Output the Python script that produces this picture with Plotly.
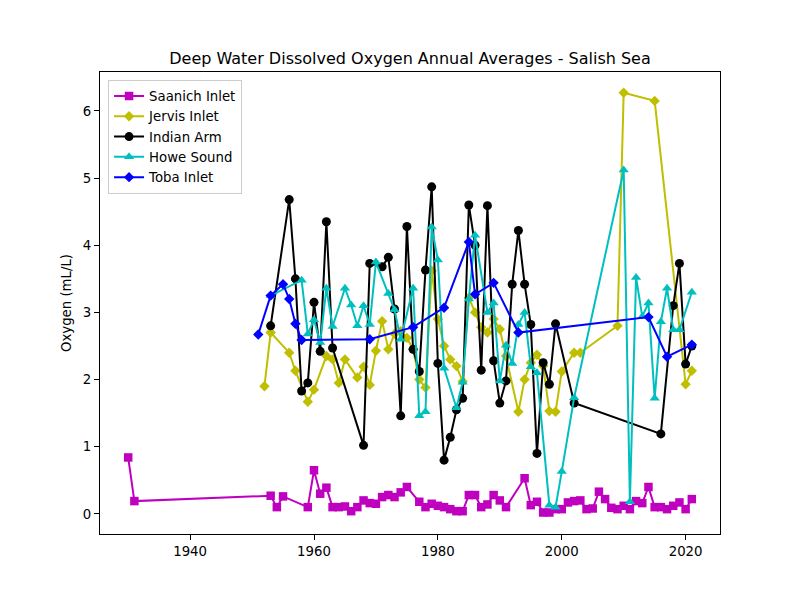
import plotly.graph_objects as go

saanich_years = [1930, 1931, 1953, 1954, 1955, 1959, 1960, 1961, 1962, 1963, 1964, 1965, 1966, 1967,
                 1968, 1969, 1970, 1971, 1972, 1973, 1974, 1975, 1977, 1978, 1979, 1980, 1981, 1982,
                 1983, 1984, 1985, 1986, 1987, 1988, 1989, 1990, 1991, 1994, 1995, 1996, 1997, 1998,
                 1999, 2000, 2001, 2002, 2003, 2004, 2005, 2006, 2007, 2008, 2009, 2010, 2011, 2012,
                 2013, 2014, 2015, 2016, 2017, 2018, 2019, 2020, 2021]
saanich_vals = [0.84, 0.19, 0.27, 0.10, 0.26, 0.10, 0.65, 0.30, 0.39, 0.10, 0.10, 0.11, 0.04, 0.10,
                0.20, 0.16, 0.15, 0.25, 0.28, 0.25, 0.32, 0.40, 0.18, 0.10, 0.15, 0.12, 0.10, 0.07,
                0.04, 0.04, 0.28, 0.28, 0.10, 0.14, 0.28, 0.20, 0.10, 0.53, 0.13, 0.18, 0.02, 0.02,
                0.07, 0.07, 0.17, 0.19, 0.20, 0.07, 0.08, 0.33, 0.22, 0.09, 0.07, 0.12, 0.07, 0.19,
                0.16, 0.40, 0.10, 0.10, 0.07, 0.12, 0.17, 0.07, 0.22]

jervis_years = [1952, 1953, 1956, 1957, 1959, 1960, 1962, 1963, 1964, 1965, 1967, 1968, 1969, 1970,
                1971, 1972, 1973, 1974, 1975, 1976, 1977, 1978, 1979, 1980, 1981, 1982, 1983, 1984,
                1985, 1986, 1987, 1988, 1989, 1990, 1991, 1993, 1994, 1995, 1996, 1997, 1998, 1999,
                2000, 2002, 2003, 2009, 2010, 2015, 2020, 2021]
jervis_vals = [1.90, 2.70, 2.40, 2.13, 1.67, 1.85, 2.35, 2.30, 1.95, 2.30, 2.03, 2.19, 1.92, 2.43,
               2.87, 2.45, 2.68, 2.72, 2.62, 2.45, 2.00, 1.88, 3.62, 2.90, 2.50, 2.30, 2.20, 1.97,
               3.22, 3.00, 2.78, 2.70, 2.90, 2.75, 2.35, 1.52, 2.00, 2.25, 2.37, 2.20, 1.53, 1.52,
               2.12, 2.40, 2.40, 2.80, 6.27, 6.15, 1.93, 2.13]

indian_years = [1953, 1956, 1957, 1958, 1959, 1960, 1961, 1962, 1963, 1968, 1969, 1971, 1972, 1973,
                1974, 1975, 1976, 1977, 1978, 1979, 1980, 1981, 1982, 1983, 1984, 1985, 1986, 1987,
                1988, 1989, 1990, 1991, 1992, 1993, 1994, 1995, 1996, 1997, 1998, 1999, 2002, 2016,
                2018, 2019, 2020, 2021]
indian_vals = [2.80, 4.68, 3.50, 1.83, 1.95, 3.15, 2.42, 4.35, 2.47, 1.02, 3.73, 3.68, 3.82, 3.05,
               1.46, 4.28, 2.45, 2.12, 3.63, 4.87, 2.24, 0.80, 1.14, 1.55, 1.72, 4.60, 4.00, 2.14,
               4.59, 2.28, 1.65, 1.98, 3.42, 4.22, 3.42, 2.82, 0.90, 2.25, 1.93, 2.83, 1.65, 1.19,
               3.10, 3.73, 2.23, 2.50]

howe_years = [1953, 1958, 1959, 1960, 1961, 1962, 1963, 1965, 1966, 1967, 1968, 1969, 1970, 1972,
              1973, 1974, 1976, 1977, 1978, 1979, 1980, 1981, 1983, 1984, 1985, 1986, 1988, 1989,
              1990, 1991, 1992, 1993, 1994, 1995, 1996, 1998, 1999, 2000, 2002, 2010, 2011, 2012,
              2013, 2014, 2015, 2016, 2017, 2018, 2019, 2021]
howe_vals = [3.25, 3.48, 2.68, 2.89, 2.55, 3.36, 2.79, 3.36, 3.11, 2.80, 3.10, 2.82, 3.75, 3.28,
             3.04, 2.60, 3.36, 1.46, 1.52, 4.27, 3.78, 2.17, 1.58, 1.96, 3.20, 4.15, 3.00, 3.14,
             1.98, 2.51, 2.24, 2.82, 3.00, 2.19, 2.10, 0.13, 0.10, 0.63, 1.73, 5.12, 0.18, 3.52,
             2.94, 3.14, 1.72, 2.86, 3.36, 2.74, 2.74, 3.30]

toba_years = [1951, 1953, 1955, 1956, 1957, 1958, 1969, 1976, 1981, 1985, 1986, 1989, 1993, 2014,
              2017, 2021]
toba_vals = [2.67, 3.25, 3.42, 3.20, 2.83, 2.59, 2.60, 2.78, 3.07, 4.05, 3.27, 3.44, 2.70, 2.93,
             2.34, 2.52]

x_ticks = [1940, 1960, 1980, 2000, 2020]
y_ticks = [0, 1, 2, 3, 4, 5, 6]

series = [
    ("Saanich Inlet", saanich_years, saanich_vals, "#bf00bf", "square", 8.5),
    ("Jervis Inlet", jervis_years, jervis_vals, "#bfbf00", "diamond", 8),
    ("Indian Arm", indian_years, indian_vals, "#000000", "circle", 9),
    ("Howe Sound", howe_years, howe_vals, "#00bfbf", "triangle-up", 9),
    ("Toba Inlet", toba_years, toba_vals, "#0000ff", "diamond", 8),
]

FONT = "DejaVu Sans"

fig = go.Figure()
for name, xs, ys, col, sym, sz in series:
    fig.add_trace(go.Scatter(
        x=xs, y=ys, name=name, mode="lines+markers",
        line=dict(color=col, width=2),
        marker=dict(color=col, symbol=sym, size=sz, line=dict(width=0)),
    ))

fig.update_layout(
    width=800, height=600,
    paper_bgcolor="white", plot_bgcolor="white",
    margin=dict(l=92, r=88, t=64, b=74),
    font=dict(family=FONT, size=13.3, color="black"),
    title=dict(text="Deep Water Dissolved Oxygen Annual Averages - Salish Sea",
               x=0.5, xref="paper", xanchor="center",
               y=1 - 50 / 600, yref="container", yanchor="middle",
               font=dict(family=FONT, size=16, color="black")),
    legend=dict(x=0.013, y=0.983, xanchor="left", yanchor="top",
                bgcolor="rgba(255,255,255,0.8)", bordercolor="#cccccc", borderwidth=1,
                font=dict(family=FONT, size=13.3, color="black"), tracegroupgap=0,
                itemwidth=30),
    showlegend=True,
)
fig.update_xaxes(range=[1925.45, 2025.55], tickvals=x_ticks, ticks="outside", ticklen=5,
                 tickcolor="black", showline=True, mirror=True, linecolor="black", linewidth=1,
                 showgrid=False, zeroline=False,
                 tickfont=dict(family=FONT, size=13.3, color="black"))
fig.update_yaxes(range=[-0.30, 6.58], tickvals=y_ticks, ticks="outside", ticklen=5,
                 tickcolor="black", showline=True, mirror=True, linecolor="black", linewidth=1,
                 showgrid=False, zeroline=False,
                 tickfont=dict(family=FONT, size=13.3, color="black"),
                 title=dict(text="Oxygen (mL/L)", standoff=8,
                            font=dict(family=FONT, size=13.3, color="black")))

fig.write_html("out.html")
